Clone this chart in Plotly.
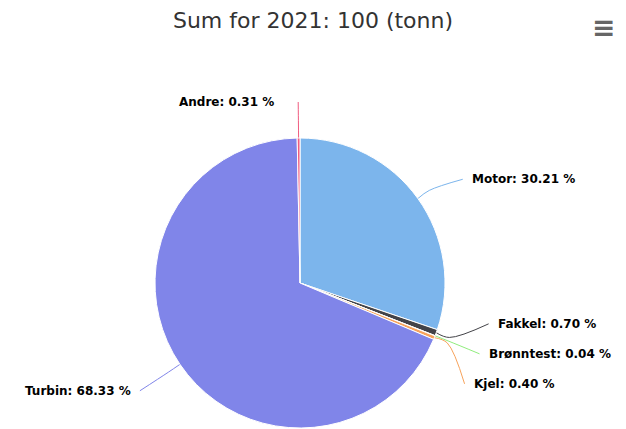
import math
import plotly.graph_objects as go

# ---- data ----
labels = ["Motor", "Fakkel", "Brønntest", "Kjel", "Turbin", "Andre"]
values = [30.21, 0.70, 0.04, 0.40, 68.33, 0.31]
colors = ["#7cb5ec", "#434348", "#90ed7d", "#f7a35c", "#8085e9", "#f15c80"]
title_text = "Sum for 2021: 100 (tonn)"
unit_suffix = " %"

# ---- layout constants ----
W, H = 626, 429
CX, CY, R = 300, 283, 145
Y_DIST = 40       # natural label distance (for y)
Y_SHIFT = 4
X_RAD = 193       # circle radius for connector ends
GAP = 30          # min vertical spacing between labels
PAD = 7
PAD_TOP = 22

total = sum(values)
mids = []
cum = 0.0
for v in values:
    mids.append((cum + v / 2) / total * 2 * math.pi)
    cum += v

nat_y = [CY + Y_SHIFT - (R + Y_DIST) * math.cos(t) for t in mids]
side = ["right" if math.sin(t) >= 0 else "left" for t in mids]


def spread(idxs):
    items = sorted(idxs, key=lambda i: nat_y[i])
    clusters = [[i] for i in items]
    res = {}
    while True:
        pos = []
        for c in clusters:
            m = sum(nat_y[i] for i in c) / len(c)
            n = len(c)
            pos.append([m + (k - (n - 1) / 2) * GAP for k in range(n)])
        merged = False
        for a in range(len(clusters) - 1):
            if pos[a][-1] + GAP > pos[a + 1][0]:
                clusters[a] = clusters[a] + clusters[a + 1]
                del clusters[a + 1]
                merged = True
                break
        if not merged:
            for c, p in zip(clusters, pos):
                for i, y in zip(c, p):
                    res[i] = y
            return res


lab_y = {}
lab_y.update(spread([i for i in range(len(values)) if side[i] == "right"]))
lab_y.update(spread([i for i in range(len(values)) if side[i] == "left"]))

fig = go.Figure()

fig.add_trace(go.Pie(
    labels=labels, values=values, sort=False, direction="clockwise", rotation=0,
    marker=dict(colors=colors, line=dict(color="white", width=1)),
    textinfo="none", textposition="none", hoverinfo="label+percent",
    showlegend=False,
    domain=dict(x=[(CX - R) / W, (CX + R) / W], y=[(H - CY - R) / H, (H - CY + R) / H]),
))

annotations = []
for i, t in enumerate(mids):
    y = lab_y[i]
    dy = y - CY
    sgn = 1 if side[i] == "right" else -1
    if abs(dy) < 0.85 * X_RAD:
        xc = CX + sgn * math.sqrt(X_RAD ** 2 - dy ** 2)
        pad = PAD
    else:
        xc = CX + (R + Y_DIST) * math.sin(t)
        pad = PAD_TOP
    ex, ey = CX + R * math.sin(t), CY - R * math.cos(t)
    bx, by = CX + (R + 14) * math.sin(t), CY - (R + 14) * math.cos(t)
    fig.add_trace(go.Scatter(
        x=[ex, bx, xc], y=[ey, by, y], mode="lines",
        line=dict(color=colors[i], width=1, shape="spline"),
        hoverinfo="skip", showlegend=False, xaxis="x", yaxis="y",
    ))
    annotations.append(dict(
        x=xc + sgn * pad, y=y, xref="x", yref="y",
        text=f"{labels[i]}: {values[i]:.2f}{unit_suffix}",
        showarrow=False, xanchor="left" if sgn > 0 else "right", yanchor="middle",
        font=dict(family="DejaVu Sans", size=12, color="#000000", weight="bold"),
    ))

annotations.append(dict(
    x=603.5, y=27, xref="x", yref="y", text="≡", showarrow=False,
    font=dict(family="DejaVu Sans", size=28, color="#666666", weight="bold"),
    xanchor="center", yanchor="middle",
))

fig.update_layout(
    width=W, height=H,
    margin=dict(l=0, r=0, t=0, b=0),
    paper_bgcolor="white", plot_bgcolor="white",
    title=dict(text=title_text, x=0.5, xanchor="center", y=1 - 20 / H, yanchor="middle",
               yref="container",
               font=dict(family="DejaVu Sans", size=22, color="#333333")),
    xaxis=dict(range=[0, W], visible=False, fixedrange=True, domain=[0, 1]),
    yaxis=dict(range=[H, 0], visible=False, fixedrange=True, domain=[0, 1]),
    annotations=annotations,
)

fig.write_html("out.html", config={"displayModeBar": False},
               post_script="document.body.style.margin='0';document.body.style.overflow='hidden';")
